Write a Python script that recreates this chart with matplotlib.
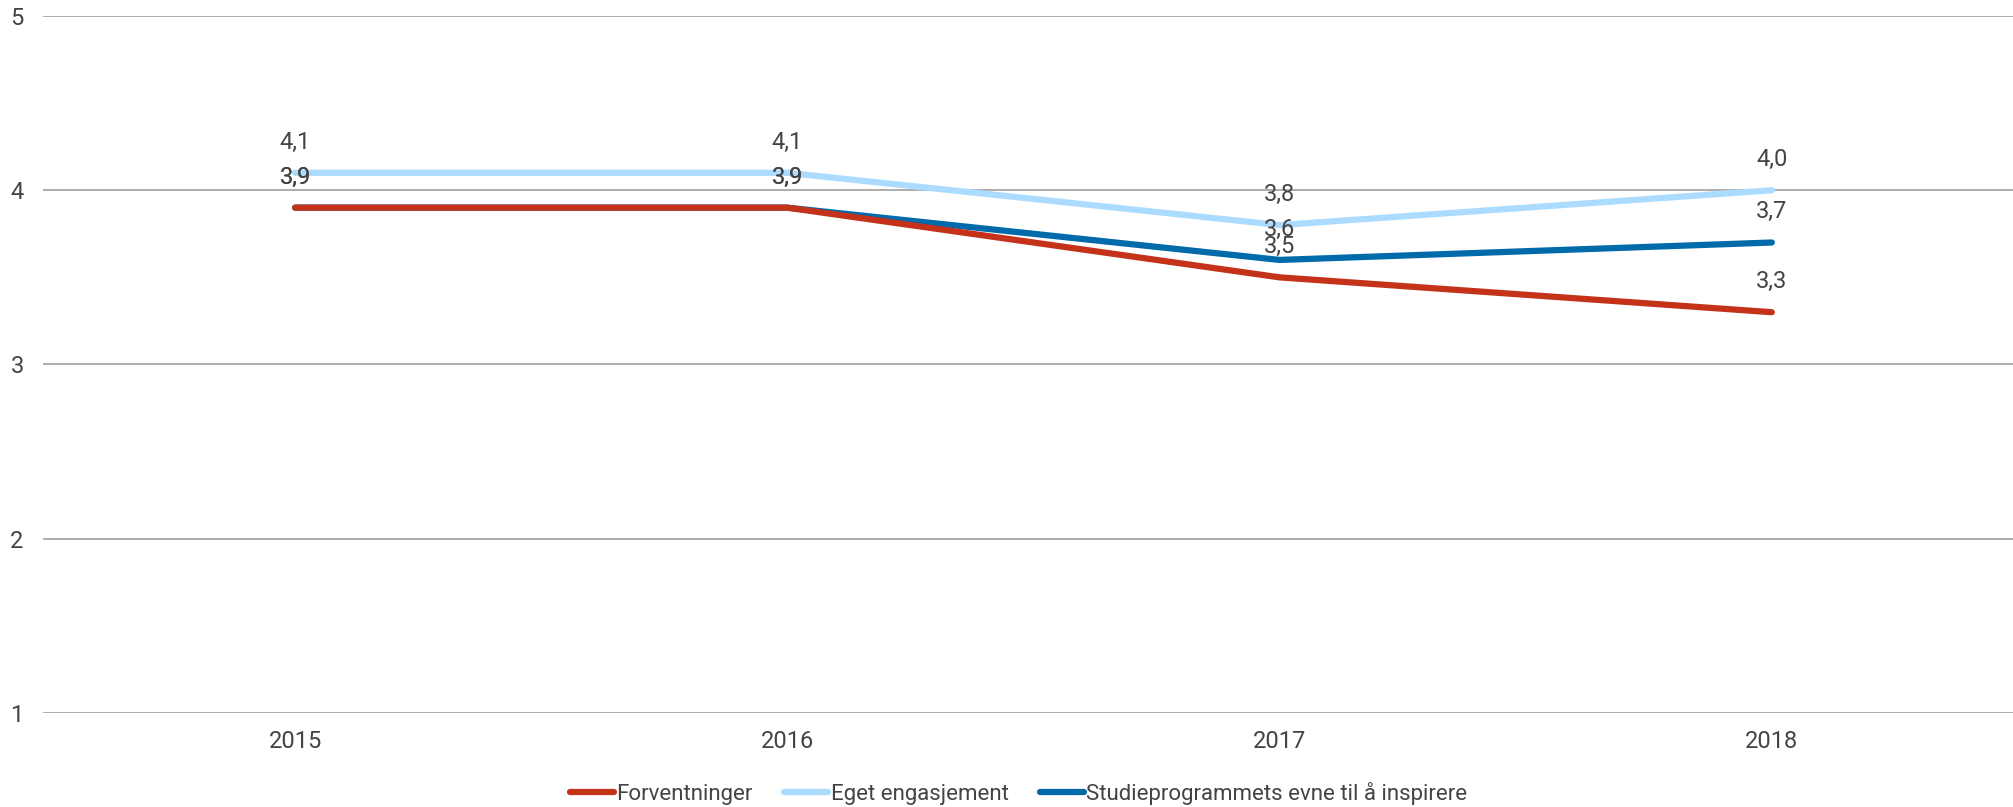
import matplotlib.pyplot as plt

plt.rcParams["font.family"] = ["Roboto", "DejaVu Sans"]

# Data
years = ["2015", "2016", "2017", "2018"]
forventninger = [3.9, 3.9, 3.5, 3.3]
eget_engasjement = [4.1, 4.1, 3.8, 4.0]
studieprogram = [3.9, 3.9, 3.6, 3.7]

series_names = ["Forventninger", "Eget engasjement",
                "Studieprogrammets evne til å inspirere"]
colors = ["#C4321A", "#ABDCFF", "#006AAB"]
series = [forventninger, eget_engasjement, studieprogram]

fig = plt.figure(figsize=(20.13, 8.07), dpi=100)
ax = fig.add_axes([0.0214, 0.1165, 0.9786, 0.8637])

x = list(range(len(years)))
zorders = [5, 3, 4]
for vals, name, col, z in zip(series, series_names, colors, zorders):
    ax.plot(x, vals, color=col, lw=4.5, label=name, zorder=z,
            solid_capstyle="round", solid_joinstyle="miter")
    for xi, v in zip(x, vals):
        ax.annotate(f"{v:.1f}".replace(".", ","), (xi, v), xytext=(0, 22),
                    textcoords="offset points", ha="center", va="center",
                    fontsize=17, color="#444444", zorder=6)

ax.set_xlim(-0.512, 3.49)
ax.set_ylim(1, 5)
ax.set_yticks([1, 2, 3, 4, 5])
ax.set_xticks(x)
ax.set_xticklabels(years)
ax.grid(axis="y", color="#A0A0A0", lw=1.2, zorder=0)
ax.set_axisbelow(True)
for s in ax.spines.values():
    s.set_visible(False)
ax.tick_params(length=0, labelsize=17, labelcolor="#444444")
ax.tick_params(axis="y", pad=14)
ax.tick_params(axis="x", pad=12)

fig.legend(*ax.get_legend_handles_labels(), loc="center",
           bbox_to_anchor=(0.506, 0.017), ncol=3, frameon=False,
           fontsize=16, handlelength=2.0, handletextpad=0.1,
           columnspacing=1.4, labelcolor="#444444", borderpad=0)

fig.savefig("out.png", dpi=100)
